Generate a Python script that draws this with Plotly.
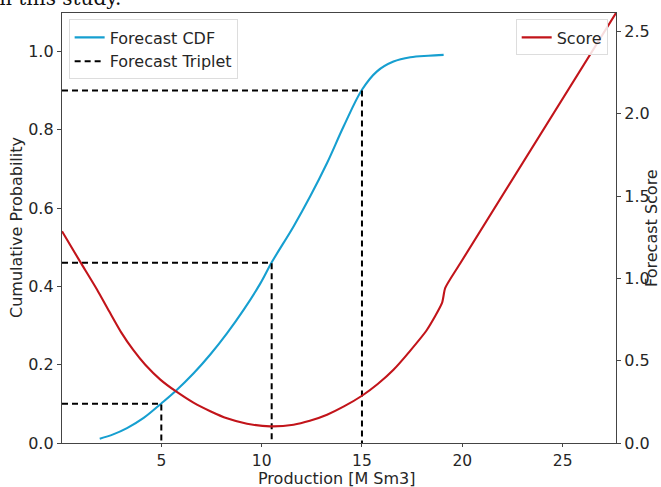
import plotly.graph_objects as go

# ---- data ----
cdf_x = [1.93, 2.6, 3.29, 4.12, 5.0, 5.7, 6.61, 7.44, 8.27, 9.1, 9.93, 10.51, 11.59, 12.42, 13.26, 14.1, 15.0, 15.75, 16.57, 17.41, 18.3, 19.07]
cdf_y = [0.011, 0.022, 0.038, 0.064, 0.101, 0.132, 0.178, 0.226, 0.28, 0.34, 0.407, 0.462, 0.553, 0.630, 0.715, 0.81, 0.902, 0.949, 0.974, 0.985, 0.989, 0.991]

trip_x = [5.0, 10.5, 15.0]
trip_p = [0.10, 0.46, 0.90]

score_x = [0.05, 0.96, 1.80, 2.4, 3.0, 3.6, 4.2, 4.95, 5.7, 6.6, 7.44, 8.27, 9.27, 10.43, 11.59, 12.4, 13.26, 14.1, 15.0, 15.8, 16.57, 17.4, 18.24, 18.99, 19.15, 19.9, 27.66]
score_y = [1.286, 1.10, 0.931, 0.80, 0.672, 0.565, 0.475, 0.385, 0.316, 0.245, 0.193, 0.150, 0.117, 0.101, 0.111, 0.135, 0.172, 0.222, 0.287, 0.36, 0.445, 0.56, 0.688, 0.851, 0.942, 1.092, 2.612]

x_ticks = [5, 10, 15, 20, 25]
p_ticks = [0.0, 0.2, 0.4, 0.6, 0.8, 1.0]
s_ticks = [0.0, 0.5, 1.0, 1.5, 2.0, 2.5]

X_RANGE = [0.05, 27.66]
P_RANGE = [0.0, 1.098]
S_RANGE = [0.0, 2.612]

BLUE = "#169fd0"
RED = "#c2141a"
FONT = "DejaVu Sans"
TXT = "#262626"

# build triplet dashed guide lines
tx, ty = [], []
for xv, pv in zip(trip_x, trip_p):
    tx += [X_RANGE[0], xv, xv, None]
    ty += [pv, pv, 0.0, None]

fig = go.Figure()
fig.add_trace(go.Scatter(x=cdf_x, y=cdf_y, mode="lines", name="Forecast CDF",
                         line=dict(color=BLUE, width=2.1, shape="spline", smoothing=1.0),
                         legend="legend"))
fig.add_trace(go.Scatter(x=tx, y=ty, mode="lines", name="Forecast Triplet",
                         line=dict(color="black", width=2, dash="6px,4px"),
                         legend="legend"))
fig.add_trace(go.Scatter(x=score_x, y=score_y, mode="lines", name="Score",
                         line=dict(color=RED, width=2.1, shape="spline", smoothing=0.6),
                         yaxis="y2", legend="legend2"))

axis_common = dict(showgrid=False, zeroline=False, showline=True, linecolor="#444444",
                   linewidth=1.3, ticks="outside", tickcolor="#444444",
                   automargin=False)

title_font = dict(family=FONT, size=16, color=TXT)

fig.update_layout(
    width=661, height=487,
    margin=dict(l=62, r=45, t=13, b=44),
    paper_bgcolor="white", plot_bgcolor="white",
    font=dict(family=FONT, size=16, color=TXT),
    xaxis=dict(range=X_RANGE, tickvals=x_ticks, mirror=True, ticklen=3,
               tickfont=dict(family=FONT, size=15.5, color=TXT), **axis_common),
    yaxis=dict(range=P_RANGE, tickvals=p_ticks, tickformat=".1f", ticklen=4,
               tickfont=dict(family=FONT, size=16, color=TXT), **axis_common),
    yaxis2=dict(range=S_RANGE, tickvals=s_ticks, tickformat=".1f", overlaying="y", side="right",
                ticklen=4, tickfont=dict(family=FONT, size=16, color=TXT), **axis_common),
    legend=dict(x=0.012, y=0.985, xanchor="left", yanchor="top",
                bgcolor="rgba(255,255,255,0.85)", bordercolor="#dddddd", borderwidth=1,
                font=dict(family=FONT, size=16), tracegroupgap=0),
    legend2=dict(x=0.985, y=0.985, xanchor="right", yanchor="top",
                 bgcolor="rgba(255,255,255,0.85)", bordercolor="#dddddd", borderwidth=1,
                 font=dict(family=FONT, size=16)),
    annotations=[
        dict(text="from this study.", xref="paper", yref="paper",
             x=0.111, y=1.034, xanchor="right", yanchor="middle", showarrow=False,
             font=dict(family="DejaVu Serif", size=20, color="#111111")),
        dict(text="Production [M Sm3]", xref="paper", yref="paper",
             x=0.496, y=-0.082, xanchor="center", yanchor="middle", showarrow=False,
             borderpad=0, font=title_font),
        dict(text="Cumulative Probability", xref="paper", yref="paper",
             x=-0.083, y=0.5, xanchor="center", yanchor="middle", showarrow=False,
             textangle=-90, font=title_font),
        dict(text="Forecast Score", xref="paper", yref="paper",
             x=1.063, y=0.5, xanchor="center", yanchor="middle", showarrow=False,
             textangle=-90, font=title_font),
    ],
)

fig.write_html("out.html")
